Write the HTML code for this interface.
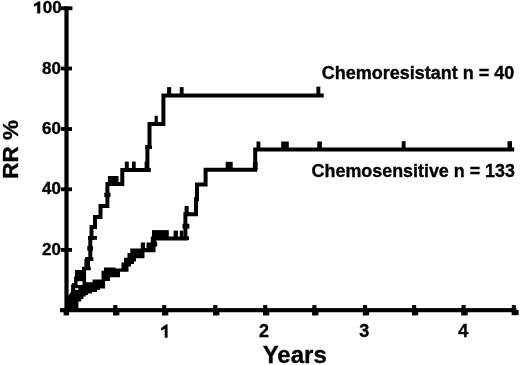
<!DOCTYPE html>
<html><head><meta charset="utf-8"><style>
html,body{margin:0;padding:0;background:#fff;width:520px;height:365px;overflow:hidden}
svg{display:block;will-change:transform}
text{font-family:"Liberation Sans",sans-serif;font-weight:bold;fill:#000;stroke:#000;stroke-width:0.35px}
</style></head><body>
<svg width="520" height="365" viewBox="0 0 520 365">
<!-- axes -->
<rect x="64.4" y="6.3" width="4.2" height="305.9" fill="#000"/>
<rect x="60" y="308.1" width="456.5" height="4.15" fill="#000"/>
<!-- y ticks -->
<g fill="#000">
<rect x="61" y="6.4" width="11.4" height="3.8"/>
<rect x="61" y="66.6" width="11" height="3.8"/>
<rect x="61" y="127.1" width="11" height="3.8"/>
<rect x="61" y="187.4" width="11" height="3.8"/>
<rect x="61" y="248" width="11" height="3.8"/>
<!-- x ticks -->
<rect x="63.6" y="308.1" width="5.5" height="7.3"/>
<rect x="113.2" y="305.1" width="4.2" height="10.2"/><rect x="113.2" y="310" width="6.2" height="5.3"/>
<rect x="162.1" y="305.1" width="4.2" height="10.2"/><rect x="162.1" y="310" width="6.2" height="5.3"/>
<rect x="213.2" y="305.1" width="4.2" height="10.2"/><rect x="213.2" y="310" width="6.2" height="5.3"/>
<rect x="263.1" y="305.1" width="4.2" height="10.2"/><rect x="263.1" y="310" width="6.2" height="5.3"/>
<rect x="312.3" y="305.1" width="4.2" height="10.2"/><rect x="312.3" y="310" width="6.2" height="5.3"/>
<rect x="362.9" y="305.1" width="4.2" height="10.2"/><rect x="362.9" y="310" width="6.2" height="5.3"/>
<rect x="412" y="305.1" width="4.2" height="10.2"/><rect x="412" y="310" width="6.2" height="5.3"/>
<rect x="461.5" y="305.1" width="4.2" height="10.2"/><rect x="461.5" y="310" width="6.2" height="5.3"/>
<rect x="511.8" y="305.1" width="4" height="10"/><rect x="511.8" y="310" width="6.8" height="5.1"/>
</g>
<!-- y labels -->
<g font-size="17" text-anchor="end">
<text x="61.6" y="13.4">00</text>
<path d="M38.6,1.4 L40.1,1.4 L40.1,13.2 L37.3,13.2 L37.3,4.9 L34.1,6.4 L34.1,4.2 Z" fill="#000" stroke="#000" stroke-width="0.35"/>
<text x="61" y="73.6">80</text>
<text x="61" y="134">60</text>
<text x="61" y="194.3">40</text>
<text x="61" y="254.7">20</text>
</g>
<!-- x labels -->
<g font-size="18" text-anchor="middle">
<path d="M166.2,324.5 L167.4,324.5 L167.4,337.6 L164.9,337.6 L164.9,328.7 L161.3,330.2 L161.3,328 Z" fill="#000" stroke="#000" stroke-width="0.35"/>
<text x="264" y="337.1">2</text>
<text x="364.3" y="337.1">3</text>
<text x="463.3" y="337.1">4</text>
</g>
<text x="294.7" y="362.5" font-size="24" text-anchor="middle">Years</text>
<text transform="translate(18.2,149.3) rotate(-90)" font-size="22.5" text-anchor="middle">RR %</text>
<text x="321.7" y="79.4" font-size="18">Chemoresistant n = 40</text>
<text x="311.6" y="177.4" font-size="17.9">Chemosensitive n = 133</text>

<!-- origin mass + lower band -->
<polygon fill="#000" points="66,309 66,297 68.3,295.5 70.2,293.2 71.1,291.5 71.1,284.6 72.2,284.6 72.2,283 74.1,283 74.1,276.4 75,276.4 75,270 82,270 82,266.8 90.8,266.8 90.8,270.3 86.1,270.3 86.1,282.2 92.6,282.2 92.6,279.5 101.5,279.5 101.5,270.8 104,270.8 104,267.5 115.5,267.5 115.5,268.4 121.5,268.4 121.5,262.5 124,262.5 124,257.7 127.5,257.7 127.5,252.9 130.3,252.9 130.3,248.5 140.8,248.5 140.8,242.6 145,242.6 145,248 146.5,248 146.5,242.4 150.8,242.4 150.8,236.5 156,236.5 156,240.8 157.2,242.4 157.2,246.2 155.5,246.8 155.5,252.2 144.5,252.2 144.5,258.2 136,258.2 136,261.5 134,261.5 134,264 131,264 131,266.5 128.5,266.5 128.5,271.8 120,271.8 120,277.2 110,277.2 110,281 105.1,281 105.1,288.5 100,288.5 100,290 97,290 97,292 92,292 92,293.5 88,293.5 88,295 85.8,295 85.8,296.5 83.4,296.5 83.4,299 81.3,299 81.3,301.5 78.4,301.5 78.4,309"/>
<g fill="#fff">
<rect x="77.6" y="281.2" width="4.9" height="3.7"/>
<rect x="75.1" y="288.2" width="3.3" height="1.6"/>
</g>

<!-- upper curve -->
<g fill="none" stroke="#000" stroke-width="4" stroke-linecap="square" stroke-linejoin="miter">
<polyline points="87.3,268 87.3,259 90.3,259 90.3,238 91.5,238 91.5,227 95,227 95,217 100.5,217 100.5,206 107.4,206 107.4,184 122.3,184 122.3,170 147.4,170 147.4,147 149.5,147 149.5,124 163.4,124 163.4,95.6 321.7,95.6"/>
</g>
<g fill="#000">
<rect x="85.5" y="257.3" width="7.9" height="3.5"/>
<rect x="84.4" y="259" width="5.6" height="9"/>
<rect x="87.3" y="246" width="5.7" height="4.7"/>
<rect x="88" y="236" width="9" height="3.8"/>
<rect x="104.3" y="192.7" width="6.2" height="4.4"/>
<rect x="107.9" y="176" width="10.6" height="8"/>
<rect x="124.8" y="161.6" width="4" height="8"/>
<rect x="132" y="161.6" width="3.7" height="8"/>
<rect x="144.6" y="161.8" width="4.3" height="8"/>
<rect x="146" y="168" width="4.8" height="4"/>
<rect x="145.4" y="145.4" width="6.6" height="3.4"/>
<rect x="154.6" y="115.8" width="3.2" height="8"/>
<rect x="167.1" y="87.1" width="4.1" height="8"/>
<rect x="179.8" y="87.1" width="3.8" height="8"/>
<rect x="316.4" y="86.6" width="3.9" height="8"/>
</g>

<!-- lower curve -->
<g fill="none" stroke="#000" stroke-width="4" stroke-linecap="square" stroke-linejoin="miter">
<polyline points="154,238.5 185.4,238.5 185.4,214.3 196,214.3 196,199 197,199 197,184.5 205.6,184.5 205.6,169.7 255.2,169.7 255.2,149.4 512.2,149.4"/>
</g>
<g fill="#000">
<rect x="152" y="230.1" width="16.8" height="7"/>
<rect x="173.6" y="230.6" width="4.3" height="7"/>
<rect x="179.8" y="230.6" width="3.4" height="7"/>
<rect x="182.5" y="223.8" width="6.9" height="4.8"/>
<rect x="184" y="236.3" width="5" height="3.8"/>
<rect x="184.6" y="206" width="4.1" height="8"/>
<rect x="225.7" y="161.8" width="7" height="7"/>
<rect x="252.9" y="162" width="4.7" height="8"/>
<rect x="256.5" y="141.5" width="3.9" height="7"/>
<rect x="281.2" y="141.5" width="7.6" height="7"/>
<rect x="317.3" y="141.5" width="4.6" height="7"/>
<rect x="401.7" y="141.2" width="3.9" height="7"/>
<rect x="507.5" y="141.2" width="4.5" height="7"/>
</g>
</svg>
</body></html>
